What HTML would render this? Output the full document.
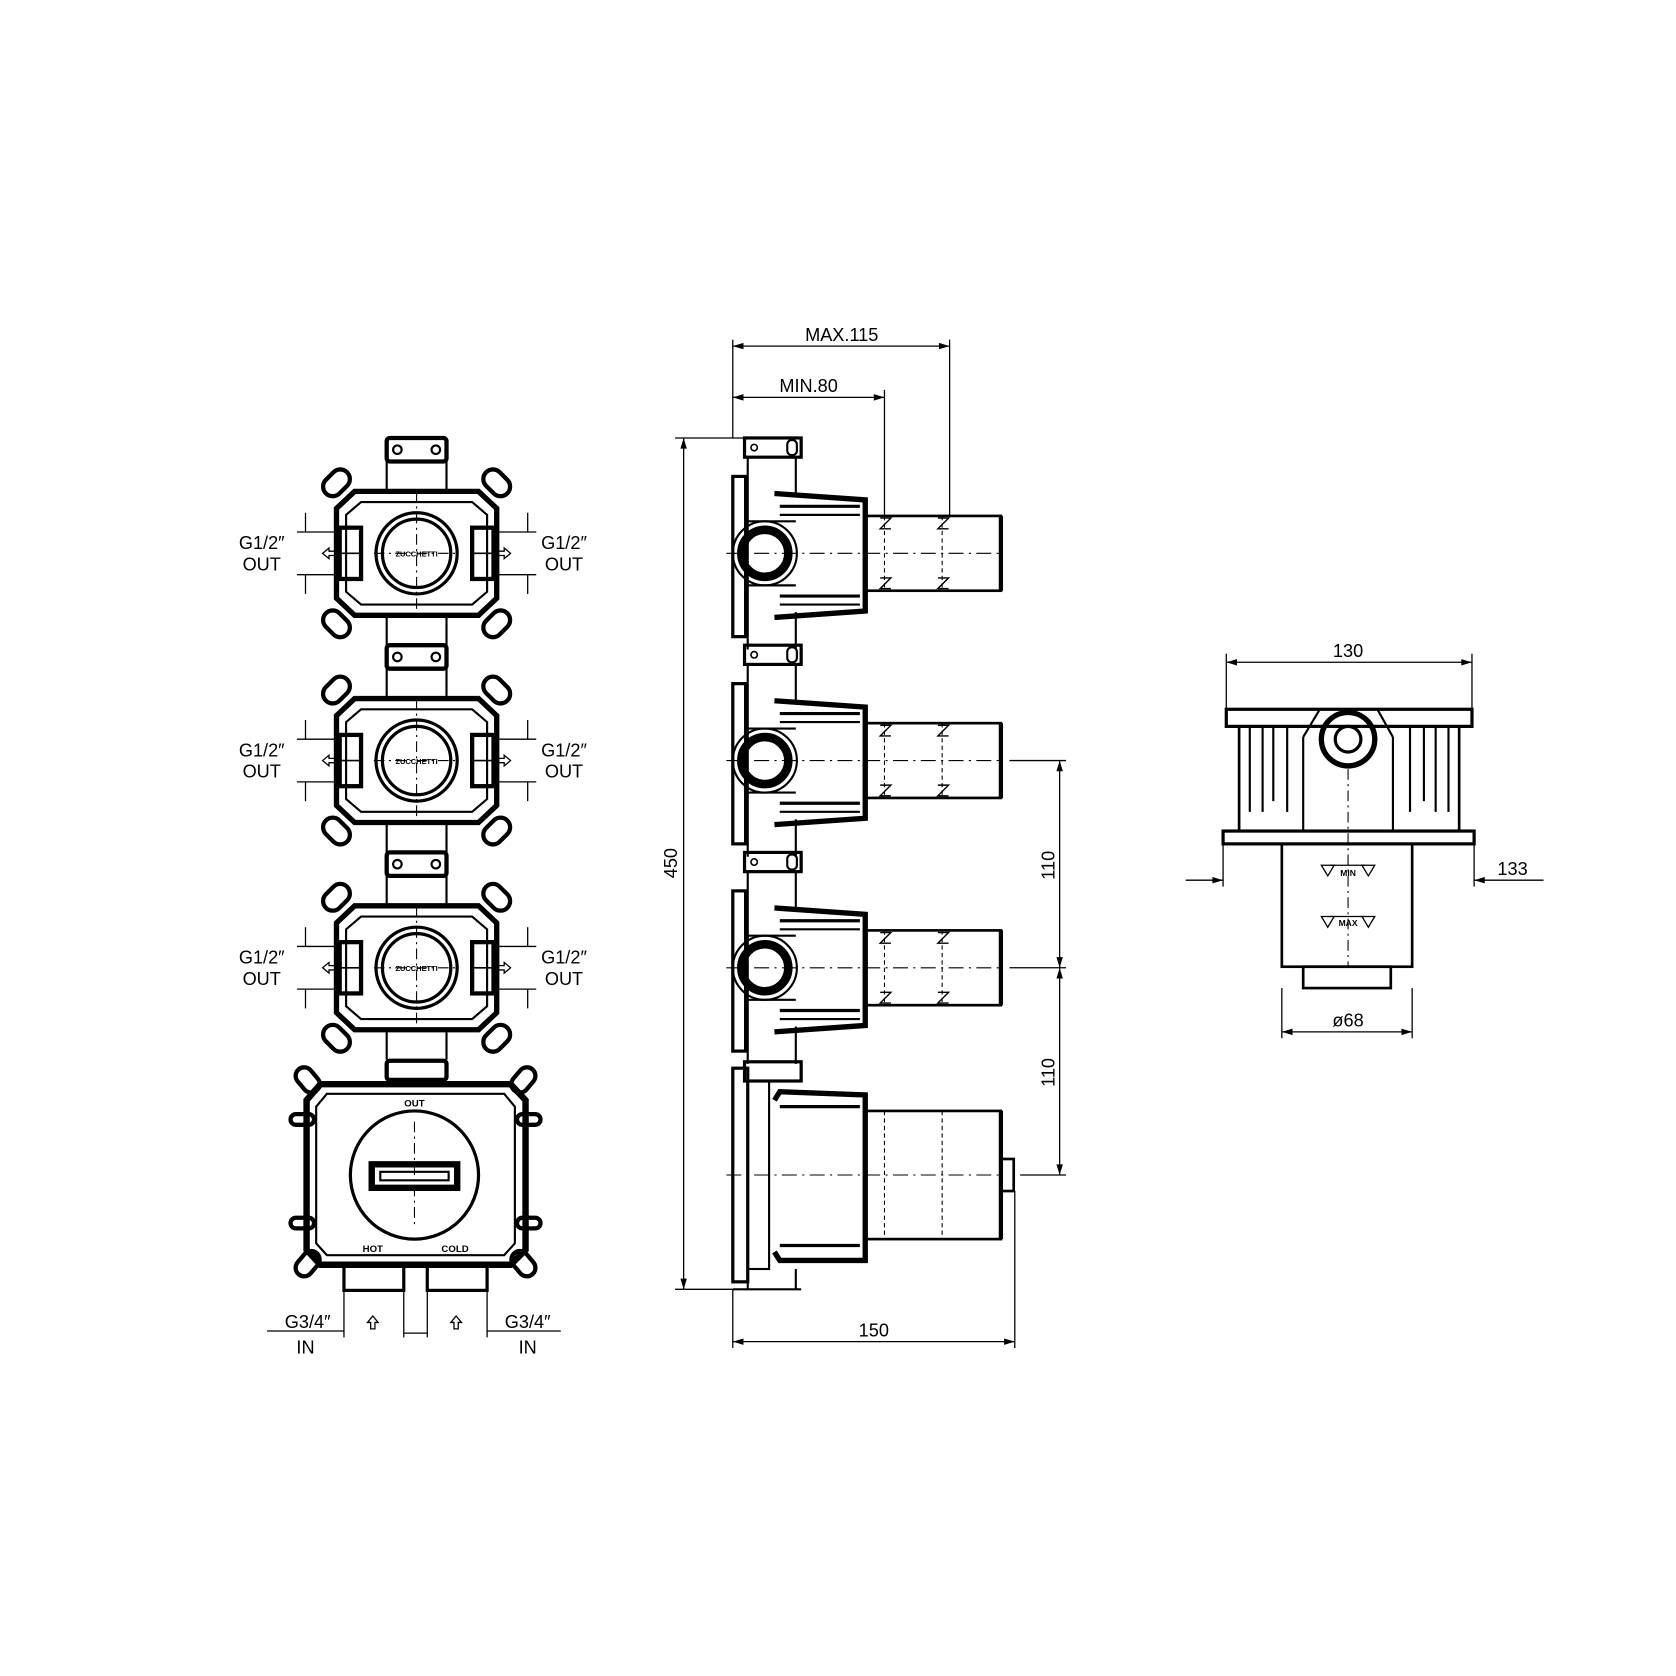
<!DOCTYPE html>
<html><head><meta charset="utf-8"><style>html,body{margin:0;padding:0;background:#fff}svg{display:block}text{font-family:"Liberation Sans",sans-serif;fill:#000}</style></head>
<body>
<svg width="1676" height="1676" viewBox="0 0 1569 1569" xmlns="http://www.w3.org/2000/svg">
<defs>
<g id="fv">
 <rect x="-28" y="-108" width="56" height="22" rx="3" fill="none" stroke="#000" stroke-width="4"/>
 <circle cx="-18" cy="-97" r="4" fill="none" stroke="#000" stroke-width="2"/>
 <circle cx="18" cy="-97" r="4" fill="none" stroke="#000" stroke-width="2"/>
 <line x1="-28" y1="-86" x2="-28" y2="-58" stroke="#000" stroke-width="2"/>
 <line x1="28" y1="-86" x2="28" y2="-58" stroke="#000" stroke-width="2"/>
 <path d="M-58,-58 L58,-58 L75,-42 L75,42 L58,58 L-58,58 L-75,42 L-75,-42 Z" fill="none" stroke="#000" stroke-width="5"/>
 <path d="M-52,-48 L52,-48 L66,-36 L66,36 L52,48 L-52,48 L-66,36 L-66,-36 Z" fill="none" stroke="#000" stroke-width="2"/>
 <rect x="-72" y="-24" width="20" height="48" fill="none" stroke="#000" stroke-width="4"/>
 <rect x="52" y="-24" width="20" height="48" fill="none" stroke="#000" stroke-width="4"/>
 <line x1="-72" y1="0" x2="-52" y2="0" stroke="#000" stroke-width="1.5"/>
 <line x1="52" y1="0" x2="72" y2="0" stroke="#000" stroke-width="1.5"/>
 <g fill="none" stroke="#000" stroke-width="4">
  <rect x="-84" y="-80" width="18" height="28" rx="9" transform="rotate(45 -75 -66)"/>
  <rect x="66" y="-80" width="18" height="28" rx="9" transform="rotate(-45 75 -66)"/>
  <rect x="-84" y="52" width="18" height="28" rx="9" transform="rotate(-45 -75 66)"/>
  <rect x="66" y="52" width="18" height="28" rx="9" transform="rotate(45 75 66)"/>
 </g>
 <circle r="38" fill="none" stroke="#000" stroke-width="3"/>
 <circle r="32" fill="none" stroke="#000" stroke-width="3"/>
 <text x="0" y="3" font-size="7" text-anchor="middle" font-weight="bold">ZUCCHETTI</text>
 <line x1="0" y1="-58" x2="0" y2="58" stroke="#000" stroke-width="1" stroke-dasharray="10,4,2,4"/>
 <line x1="-40" y1="0" x2="40" y2="0" stroke="#000" stroke-width="1" stroke-dasharray="10,4,2,4"/>
 <line x1="-28" y1="58" x2="-28" y2="86" stroke="#000" stroke-width="2"/>
 <line x1="28" y1="58" x2="28" y2="86" stroke="#000" stroke-width="2"/>
 <g stroke="#000" stroke-width="1.2" fill="none">
  <line x1="-112" y1="-20" x2="-75" y2="-20"/><line x1="-112" y1="20" x2="-75" y2="20"/>
  <line x1="75" y1="-20" x2="112" y2="-20"/><line x1="75" y1="20" x2="112" y2="20"/>
  <line x1="-104" y1="-38" x2="-104" y2="-20"/><line x1="-104" y1="20" x2="-104" y2="38"/>
  <line x1="104" y1="-38" x2="104" y2="-20"/><line x1="104" y1="20" x2="104" y2="38"/>
  <path d="M-88,0 l6,-5 v3 h6 v4 h-6 v3 z"/><path d="M88,0 l-6,-5 v3 h-6 v4 h6 v3 z"/>
 </g>
 <text x="-145" y="-4" font-size="17" text-anchor="middle">G1/2″</text>
 <text x="-145" y="16" font-size="17" text-anchor="middle">OUT</text>
 <text x="138" y="-4" font-size="17" text-anchor="middle">G1/2″</text>
 <text x="138" y="16" font-size="17" text-anchor="middle">OUT</text>
</g>
<g id="sv">
 <rect x="697" y="-108" width="53" height="18" fill="none" stroke="#000" stroke-width="3"/>
 <circle cx="706" cy="-99" r="3" fill="none" stroke="#000" stroke-width="1.5"/>
 <rect x="737" y="-106" width="9" height="14" rx="4" fill="none" stroke="#000" stroke-width="2"/>
 <rect x="686" y="-72" width="12" height="150" fill="none" stroke="#000" stroke-width="3"/>
 <line x1="700" y1="-90" x2="700" y2="90" stroke="#000" stroke-width="2"/>
 <line x1="745" y1="-90" x2="745" y2="-55" stroke="#000" stroke-width="2"/>
 <line x1="745" y1="55" x2="745" y2="90" stroke="#000" stroke-width="2"/>
 <path d="M725,-56 L810,-50 L810,54 L725,60" fill="none" stroke="#000" stroke-width="5"/>
 <line x1="730" y1="-44" x2="805" y2="-44" stroke="#000" stroke-width="3"/>
 <line x1="730" y1="-36" x2="805" y2="-36" stroke="#000" stroke-width="2"/>
 <line x1="730" y1="40" x2="805" y2="40" stroke="#000" stroke-width="3"/>
 <line x1="730" y1="48" x2="805" y2="48" stroke="#000" stroke-width="2"/>
 <path d="M700,-30 L745,-30 M745,30 L700,30" stroke="#000" stroke-width="2"/>
 <circle cx="716" cy="0" r="22" fill="none" stroke="#000" stroke-width="8"/>
 <circle cx="716" cy="0" r="30" fill="none" stroke="#000" stroke-width="2"/>
 <rect x="810" y="-35" width="127" height="70" fill="none" stroke="#000" stroke-width="2.5"/>
 <line x1="937" y1="-35" x2="937" y2="35" stroke="#000" stroke-width="4"/>
 <g stroke="#000" stroke-width="1" stroke-dasharray="4,3" fill="none"><line x1="828" y1="-35" x2="828" y2="35"/><line x1="882" y1="-35" x2="882" y2="35"/></g>
 <g stroke="#000" stroke-width="1.3" fill="none">
  <path d="M824,-33 h10 l-10,10 h10"/><path d="M878,-33 h10 l-10,10 h10"/>
  <path d="M824,23 h10 l-10,10 h10"/><path d="M878,23 h10 l-10,10 h10"/>
 </g>
 <line x1="680" y1="0" x2="937" y2="0" stroke="#000" stroke-width="1" stroke-dasharray="14,5,2,5"/>
</g>
</defs>

<use href="#fv" x="390" y="518"/>
<use href="#fv" x="390" y="712"/>
<use href="#fv" x="390" y="906"/>

<g fill="none" stroke="#000">
 <rect x="362" y="993" width="56" height="18" rx="3" stroke-width="4"/>
 <path d="M300,1015 L478,1015 L492,1030 L492,1170 L478,1184 L300,1184 L287,1170 L287,1030 Z" stroke-width="6"/>
 <path d="M306,1024 L472,1024 L482,1036 L482,1164 L472,1175 L306,1175 L296,1164 L296,1036 Z" stroke-width="2"/>
 <circle cx="388" cy="1100" r="60" stroke-width="3"/>
 <path d="M348,1090 h80 v22 h-80 z" stroke-width="6"/>
 <path d="M356,1097 h64 v8 h-64 z" stroke-width="2"/>
 <line x1="388" y1="1050" x2="388" y2="1150" stroke-width="1" stroke-dasharray="10,4,2,4"/>
 <g stroke-width="4">
  <rect x="280" y="998" width="16" height="26" rx="8" transform="rotate(-40 288 1011)"/>
  <rect x="482" y="998" width="16" height="26" rx="8" transform="rotate(40 490 1011)"/>
  <rect x="280" y="1170" width="16" height="26" rx="8" transform="rotate(40 288 1183)"/>
  <rect x="482" y="1170" width="16" height="26" rx="8" transform="rotate(-40 490 1183)"/>
  <rect x="272" y="1043" width="22" height="10" rx="5"/><rect x="484" y="1043" width="22" height="10" rx="5"/>
  <rect x="272" y="1140" width="22" height="10" rx="5"/><rect x="484" y="1140" width="22" height="10" rx="5"/>
 </g>
 <rect x="322" y="1184" width="56" height="24" stroke-width="3"/>
 <rect x="400" y="1184" width="56" height="24" stroke-width="3"/>
 <g stroke-width="1.2">
  <line x1="322" y1="1208" x2="322" y2="1252"/><line x1="378" y1="1208" x2="378" y2="1252"/>
  <line x1="400" y1="1208" x2="400" y2="1252"/><line x1="456" y1="1208" x2="456" y2="1252"/>
  <line x1="250" y1="1246" x2="322" y2="1246"/><line x1="456" y1="1246" x2="525" y2="1246"/>
  <line x1="378" y1="1248" x2="400" y2="1248"/>
  <path d="M349,1232 l-5,6 h3 v6 h4 v-6 h3 z"/><path d="M427,1232 l-5,6 h3 v6 h4 v-6 h3 z"/>
 </g>
</g>
<text x="388" y="1036" font-size="9" text-anchor="middle" font-weight="bold">OUT</text>
<text x="349" y="1172" font-size="9" text-anchor="middle" font-weight="bold">HOT</text>
<text x="426" y="1172" font-size="9" text-anchor="middle" font-weight="bold">COLD</text>
<text x="288" y="1243" font-size="17" text-anchor="middle">G3/4″</text>
<text x="286" y="1267" font-size="17" text-anchor="middle">IN</text>
<text x="494" y="1243" font-size="17" text-anchor="middle">G3/4″</text>
<text x="494" y="1267" font-size="17" text-anchor="middle">IN</text>

<use href="#sv" x="0" y="518"/>
<use href="#sv" x="0" y="712"/>
<use href="#sv" x="0" y="906"/>
<g fill="none" stroke="#000">
 <rect x="697" y="994" width="53" height="18" stroke-width="3"/>
 <rect x="686" y="1000" width="14" height="200" stroke-width="3"/>
 <rect x="700" y="1012" width="20" height="176" stroke-width="2"/>
 <path d="M725,1030 L730,1022 L810,1025 L810,1180 L730,1180 L725,1172" stroke-width="5"/>
 <line x1="730" y1="1036" x2="805" y2="1036" stroke-width="3"/>
 <line x1="730" y1="1166" x2="805" y2="1166" stroke-width="3"/>
 <line x1="700" y1="1188" x2="700" y2="1207" stroke-width="2"/><line x1="745" y1="1188" x2="745" y2="1207" stroke-width="2"/>
 <line x1="686" y1="1207" x2="750" y2="1207" stroke-width="2"/>
 <rect x="810" y="1040" width="127" height="120" stroke-width="2.5"/>
 <line x1="937" y1="1040" x2="937" y2="1160" stroke-width="4"/>
 <rect x="937" y="1085" width="12" height="30" stroke-width="2.5"/>
 <g stroke-width="1" stroke-dasharray="4,3"><line x1="828" y1="1040" x2="828" y2="1160"/><line x1="882" y1="1040" x2="882" y2="1160"/></g>
 <line x1="680" y1="1100" x2="937" y2="1100" stroke-width="1" stroke-dasharray="14,5,2,5"/>
 <g stroke-width="1.2">
  <line x1="686" y1="318" x2="686" y2="410"/><line x1="889" y1="318" x2="889" y2="483"/><line x1="828" y1="365" x2="828" y2="483"/>
  <line x1="686" y1="324" x2="889" y2="324"/><line x1="686" y1="372" x2="828" y2="372"/>
  <line x1="632" y1="410" x2="697" y2="410"/><line x1="632" y1="1207" x2="686" y2="1207"/>
  <line x1="640" y1="410" x2="640" y2="1207"/>
  <line x1="686" y1="1207" x2="686" y2="1262"/><line x1="950" y1="1115" x2="950" y2="1262"/>
  <line x1="686" y1="1256" x2="950" y2="1256"/>
  <line x1="945" y1="712" x2="998" y2="712"/><line x1="945" y1="906" x2="998" y2="906"/><line x1="955" y1="1100" x2="998" y2="1100"/>
  <line x1="992" y1="712" x2="992" y2="1100"/>
 </g>
 <g fill="#000" stroke="none">
  <path d="M686,324 l10,-3 v6z"/><path d="M889,324 l-10,-3 v6z"/>
  <path d="M686,372 l10,-3 v6z"/><path d="M828,372 l-10,-3 v6z"/>
  <path d="M640,410 l-3,10 h6z"/><path d="M640,1207 l-3,-10 h6z"/>
  <path d="M686,1256 l10,-3 v6z"/><path d="M950,1256 l-10,-3 v6z"/>
  <path d="M992,712 l-3,10 h6z"/><path d="M992,906 l-3,-10 h6z"/><path d="M992,906 l-3,10 h6z"/><path d="M992,1100 l-3,-10 h6z"/>
 </g>
</g>
<text x="788" y="319" font-size="17" text-anchor="middle">MAX.115</text>
<text x="757" y="367" font-size="17" text-anchor="middle">MIN.80</text>
<text x="818" y="1251" font-size="17" text-anchor="middle">150</text>
<text transform="translate(634 808) rotate(-90)" font-size="17" text-anchor="middle">450</text>
<text transform="translate(987 810) rotate(-90)" font-size="17" text-anchor="middle">110</text>
<text transform="translate(987 1004) rotate(-90)" font-size="17" text-anchor="middle">110</text>

<g fill="none" stroke="#000">
 <rect x="1148" y="664" width="230" height="16" stroke-width="3"/>
 <line x1="1160" y1="680" x2="1160" y2="778" stroke-width="2.5"/><line x1="1366" y1="680" x2="1366" y2="778" stroke-width="2.5"/>
 <g stroke-width="2">
  <line x1="1170" y1="680" x2="1170" y2="760"/><line x1="1182" y1="680" x2="1182" y2="760"/>
  <line x1="1192" y1="680" x2="1192" y2="750"/><line x1="1205" y1="680" x2="1205" y2="760"/>
  <line x1="1320" y1="680" x2="1320" y2="760"/><line x1="1333" y1="680" x2="1333" y2="750"/>
  <line x1="1344" y1="680" x2="1344" y2="760"/><line x1="1356" y1="680" x2="1356" y2="760"/>
  <line x1="1220" y1="690" x2="1220" y2="778"/><line x1="1304" y1="690" x2="1304" y2="778"/>
 </g>
 <path d="M1220,690 L1235,665 M1304,690 L1290,665" stroke-width="2"/>
 <circle cx="1262" cy="692" r="25" stroke-width="5"/>
 <circle cx="1262" cy="692" r="12" stroke-width="3"/>
 <rect x="1145" y="778" width="235" height="12" stroke-width="3"/>
 <rect x="1200" y="790" width="122" height="115" stroke-width="2.5"/>
 <line x1="1262" y1="720" x2="1262" y2="905" stroke-width="1" stroke-dasharray="10,4,2,4"/>
 <rect x="1220" y="905" width="82" height="20" stroke-width="2.5"/>
 <g stroke-width="1.2">
  <path d="M1237,810 l6,10 l6,-10z M1275,810 l6,10 l6,-10z"/><line x1="1245" y1="810" x2="1278" y2="810"/>
  <path d="M1237,858 l6,10 l6,-10z M1275,858 l6,10 l6,-10z"/><line x1="1245" y1="858" x2="1278" y2="858"/>
  <line x1="1148" y1="612" x2="1148" y2="664"/><line x1="1378" y1="612" x2="1378" y2="664"/>
  <line x1="1148" y1="620" x2="1378" y2="620"/>
  <line x1="1145" y1="790" x2="1145" y2="830"/><line x1="1380" y1="790" x2="1380" y2="830"/>
  <line x1="1110" y1="824" x2="1145" y2="824"/><line x1="1380" y1="824" x2="1445" y2="824"/>
  <line x1="1200" y1="925" x2="1200" y2="972"/><line x1="1322" y1="925" x2="1322" y2="972"/>
  <line x1="1200" y1="966" x2="1322" y2="966"/>
 </g>
 <g fill="#000" stroke="none">
  <path d="M1148,620 l10,-3 v6z"/><path d="M1378,620 l-10,-3 v6z"/>
  <path d="M1145,824 l-10,-3 v6z"/><path d="M1380,824 l10,-3 v6z"/>
  <path d="M1200,966 l10,-3 v6z"/><path d="M1322,966 l-10,-3 v6z"/>
 </g>
</g>
<text x="1262" y="615" font-size="17" text-anchor="middle">130</text>
<text x="1416" y="819" font-size="17" text-anchor="middle">133</text>
<text x="1262" y="961" font-size="17" text-anchor="middle">ø68</text>
<text x="1262" y="820" font-size="8" text-anchor="middle" font-weight="bold">MIN</text>
<text x="1262" y="867" font-size="8" text-anchor="middle" font-weight="bold">MAX</text>
</svg>
</body></html>
